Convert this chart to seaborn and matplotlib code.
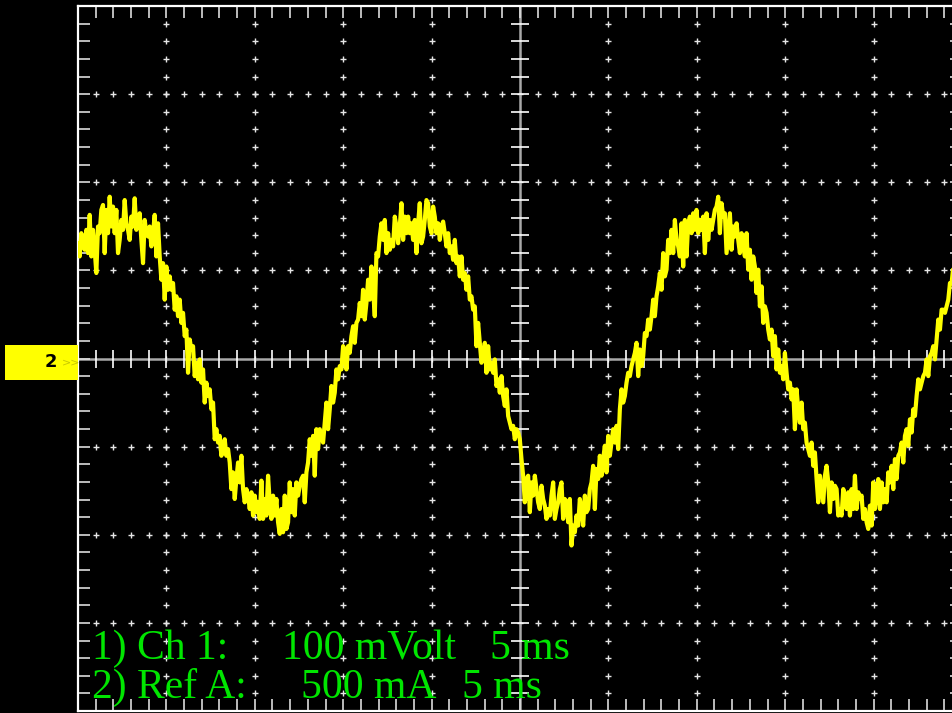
import numpy as np
import pandas as pd
import matplotlib
matplotlib.use("Agg")
import matplotlib.pyplot as plt
import seaborn as sns
from matplotlib.patches import Rectangle

# ---------------- data ----------------
SAMPLE_MS = 0.0943          # sample interval of the record (ms)
MS_PER_DIV = 5              # 5 ms / div
MA_PER_DIV = 500            # 500 mA / div (Ref A)
N_DIV_X = 10
N_DIV_Y = 8

current_mA = [
    654, 579, 711, 673, 617, 730, 598, 815, 579, 730,
    617, 485, 749, 711, 843, 871, 598, 843, 711, 918,
    749, 862, 711, 843, 598, 673, 786, 730, 899, 767,
    730, 673, 805, 749, 909, 730, 786, 824, 673, 541,
    786, 711, 692, 749, 636, 711, 815, 579, 767, 579,
    447, 541, 334, 522, 390, 466, 390, 428, 277, 353,
    240, 334, 202, 259, 127, 164, -81, 108, 51, 70,
    -100, -24, -118, -5, -137, -62, -250, -137, -213, -175,
    -288, -250, -458, -401, -477, -439, -552, -514, -458, -552,
    -514, -590, -741, -646, -797, -684, -590, -703, -552, -741,
    -816, -741, -778, -854, -759, -891, -778, -872, -816, -910,
    -693, -910, -797, -891, -665, -816, -910, -778, -891, -797,
    -929, -995, -854, -986, -778, -967, -929, -703, -872, -741,
    -891, -703, -778, -722, -684, -665, -816, -646, -590, -458,
    -552, -439, -665, -401, -514, -401, -439, -477, -364, -250,
    -401, -288, -156, -250, -194, -62, -118, -43, -62, 70,
    51, -62, 70, 32, 127, 183, 89, 202, 221, 315,
    240, 390, 221, 315, 447, 334, 522, 390, 240, 598,
    579, 692, 767, 673, 786, 598, 711, 617, 673, 636,
    805, 749, 654, 749, 881, 673, 805, 711, 805, 711,
    767, 673, 786, 598, 767, 881, 654, 692, 786, 899,
    881, 749, 711, 862, 805, 711, 767, 673, 749, 777,
    711, 636, 711, 598, 636, 560, 673, 541, 579, 466,
    579, 447, 485, 390, 466, 334, 353, 277, 296, 70,
    202, 89, -24, 13, 89, -81, 70, -62, -24, -81,
    -5, -156, -118, -194, -100, -213, -269, -175, -326, -364,
    -401, -382, -458, -401, -420, -458, -571, -665, -816, -684,
    -665, -872, -703, -778, -665, -741, -816, -854, -722, -797,
    -835, -910, -854, -891, -778, -703, -910, -854, -816, -741,
    -703, -910, -797, -816, -929, -797, -1061, -948, -986, -891,
    -948, -797, -854, -948, -778, -872, -854, -741, -703, -609,
    -854, -627, -684, -552, -665, -571, -495, -646, -439, -552,
    -477, -401, -477, -382, -514, -288, -175, -250, -213, -137,
    -81, -100, -43, -5, 32, 89, -100, 51, -43, 13,
    145, 127, 221, 164, 240, 334, 240, 353, 409, 485,
    390, 598, 466, 504, 673, 598, 730, 598, 786, 673,
    636, 579, 767, 522, 786, 579, 767, 805, 711, 824,
    730, 843, 711, 786, 730, 805, 598, 824, 673, 786,
    730, 786, 843, 862, 918, 711, 881, 805, 824, 598,
    711, 824, 617, 749, 692, 767, 673, 598, 711, 636,
    579, 711, 504, 617, 447, 579, 522, 372, 504, 296,
    409, 202, 296, 259, 164, 108, 164, 13, 127, -62,
    51, -81, -43, -118, 32, -81, -175, -137, -232, -175,
    -401, -175, -288, -364, -250, -401, -364, -477, -514, -552,
    -477, -609, -533, -684, -816, -665, -741, -816, -665, -609,
    -703, -872, -703, -797, -722, -741, -891, -854, -891, -741,
    -778, -854, -759, -891, -741, -854, -665, -854, -759, -797,
    -778, -910, -854, -929, -967, -835, -948, -703, -854, -778,
    -684, -854, -703, -816, -741, -816, -646, -703, -609, -741,
    -571, -684, -552, -533, -477, -590, -439, -401, -495, -345,
    -420, -288, -326, -213, -118, -175, -137, -100, -81, -5,
    -100, 13, 32, 70, -5, 108, 221, 164, 277, 277,
    259, 296, 334, 428, 428, 522,
]

label_line1 = ["1) Ch 1:", "100 mVolt", "5 ms"]
label_line2 = ["2) Ref A:", "500 mA", "5 ms"]
channel_marker = "2"

# ---------------- style ----------------
sns.set_style("dark", {"axes.facecolor": "black", "figure.facecolor": "black",
                       "axes.edgecolor": "white", "axes.grid": False})
plt.rcParams["font.family"] = ["Liberation Serif", "DejaVu Serif"]

W, H = 953, 713
fig = plt.figure(figsize=(W / 100, H / 100), dpi=100)
fig.patch.set_facecolor("black")
left_px, top_px, bottom_px = 78, 6, 711
ax_w_px = 884
ax = fig.add_axes([left_px / W, (H - bottom_px) / H, ax_w_px / W, (bottom_px - top_px) / H])
ax.set_facecolor("black")

x_max = MS_PER_DIV * N_DIV_X
y_max = MA_PER_DIV * N_DIV_Y / 2
ax.set_xlim(0, x_max)
ax.set_ylim(-y_max, y_max)
ax.set_xticks([])
ax.set_yticks([])
for s in ax.spines.values():
    s.set_color("white")
    s.set_linewidth(1.6)

# graticule
minor_dx = MS_PER_DIV / 5
minor_dy = MA_PER_DIV / 5
minor_x = np.arange(0, x_max + 1e-6, minor_dx)
minor_y = np.arange(-y_max, y_max + 1e-6, minor_dy)
major_x = [MS_PER_DIV * k for k in range(1, N_DIV_X) if k != N_DIV_X // 2]
major_y = [MA_PER_DIV * k for k in range(-N_DIV_Y // 2 + 1, N_DIV_Y // 2) if k != 0]

px_per_div_y = (bottom_px - top_px) / N_DIV_Y
px_per_div_x = ax_w_px / N_DIV_X
def dy(px):
    return px / px_per_div_y * MA_PER_DIV
def dx(px):
    return px / px_per_div_x * MS_PER_DIV

cx, cy = [], []
for mx in major_x:
    for yy in minor_y[1:-1]:
        cx.append(mx); cy.append(yy)
for my in major_y:
    for xx in minor_x[1:-1]:
        cx.append(xx); cy.append(my)
ax.plot(cx, cy, ls="none", marker="+", ms=4.2, mew=1.0, color="#e6e6e6", zorder=1)

# center axes
xc = x_max / 2
ax.axhline(0, color="#a9a9a9", lw=1.8, zorder=1)
ax.axvline(xc, color="#a9a9a9", lw=1.8, zorder=1)
ax.vlines(minor_x, -dy(9), dy(9), color="white", lw=1.2, zorder=2)
ax.hlines(minor_y, xc - dx(9), xc + dx(9), color="white", lw=1.2, zorder=2)

# border ticks
ax.vlines(minor_x, y_max - dy(12), y_max, color="#dcdcdc", lw=1.2, zorder=2)
ax.vlines(minor_x, -y_max, -y_max + dy(12), color="#dcdcdc", lw=1.2, zorder=2)
ax.hlines(minor_y, 0, dx(12), color="#dcdcdc", lw=1.2, zorder=2)
ax.hlines(minor_y, x_max - dx(12), x_max, color="#dcdcdc", lw=1.2, zorder=2)

# trace
df = pd.DataFrame({"time_ms": np.arange(len(current_mA)) * SAMPLE_MS,
                   "current_mA": current_mA})
sns.lineplot(data=df, x="time_ms", y="current_mA", ax=ax, color="#ffff00",
             lw=3.0, estimator=None, sort=False, legend=False, zorder=5)
ax.set_xlabel("")
ax.set_ylabel("")
ax.set_xlim(0, x_max)
ax.set_ylim(-y_max, y_max)

# channel marker on the left
fig.add_artist(Rectangle((5 / W, (H - 380) / H), 73 / W, 35 / H,
                         transform=fig.transFigure, facecolor="#ffff00",
                         edgecolor="none", zorder=3))
fig.text(51 / W, 1 - 362 / H, channel_marker, color="black", fontsize=13,
         ha="center", va="center", family=["DejaVu Sans"], fontweight="bold")
fig.text(71 / W, 1 - 362 / H, ">>", color="#c8c800", fontsize=8,
         ha="center", va="center", family=["DejaVu Sans"])

# readout text
green = "#00e600"
fs = 30
xs1 = [92, 282, 490]
xs2 = [92, 301, 462]
for s, xp in zip(label_line1, xs1):
    fig.text(xp / W, 1 - 659 / H, s, color=green, fontsize=fs, va="baseline", ha="left")
for s, xp in zip(label_line2, xs2):
    fig.text(xp / W, 1 - 698 / H, s, color=green, fontsize=fs, va="baseline", ha="left")

fig.savefig("out.png", dpi=100, facecolor="black")
